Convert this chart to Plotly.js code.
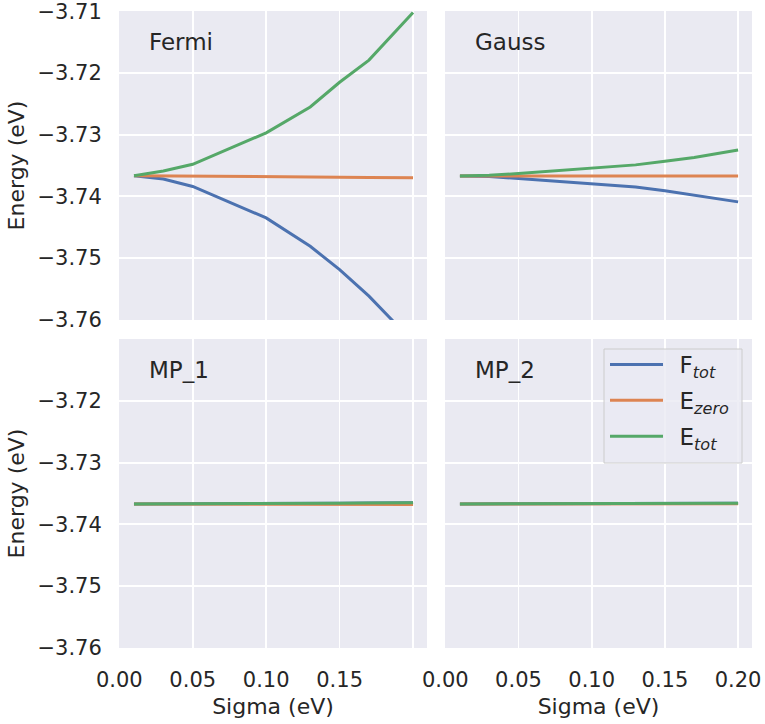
<!DOCTYPE html>
<html>
<head>
<meta charset="utf-8">
<script src="https://cdn.plot.ly/plotly-3.0.1.min.js"></script>
<style>
  html, body { margin: 0; padding: 0; background: #fff; }
  #chart { width: 765px; height: 724px; }
</style>
</head>
<body>
<div id="chart"></div>
<script>
// smearing width (eV)
const sigma = [0.01, 0.03, 0.05, 0.10, 0.13, 0.15, 0.17, 0.20];

// Fermi
const fermiF     = [-3.73665, -3.7372, -3.7384, -3.7435, -3.7481, -3.7519, -3.7562, -3.7636];
const fermiEzero = [-3.73665, -3.73667, -3.7367, -3.7368, -3.73685, -3.7369, -3.73695, -3.7370];
const fermiEtot  = [-3.73665, -3.7359, -3.7348, -3.7297, -3.7255, -3.7215, -3.7179, -3.7102];

// Gauss
const gaussF     = [-3.7367, -3.7368, -3.7371, -3.7379, -3.7385, -3.7391, -3.7398, -3.7409];
const gaussEzero = [-3.7367, -3.7367, -3.7367, -3.7367, -3.7367, -3.7367, -3.7367, -3.7367];
const gaussEtot  = [-3.7367, -3.7366, -3.7363, -3.7355, -3.7349, -3.7343, -3.7337, -3.7325];

// MP_1
const mp1F     = [-3.7367, -3.7367, -3.7367, -3.73665, -3.7366, -3.7366, -3.73655, -3.7365];
const mp1Ezero = [-3.7367, -3.7367, -3.7367, -3.7367, -3.73672, -3.73675, -3.73677, -3.7368];
const mp1Etot  = [-3.7367, -3.7367, -3.7367, -3.73665, -3.7366, -3.7366, -3.73655, -3.7365];

// MP_2
const mp2F     = [-3.7367, -3.7367, -3.7367, -3.73665, -3.73665, -3.7366, -3.7366, -3.7366];
const mp2Ezero = [-3.7367, -3.7367, -3.7367, -3.73667, -3.73667, -3.73665, -3.73665, -3.73665];
const mp2Etot  = [-3.7367, -3.7367, -3.7367, -3.73665, -3.73665, -3.7366, -3.7366, -3.7366];

const panels = [
  {name: 'Fermi', F: fermiF, Ez: fermiEzero, Et: fermiEtot, xa: 'x',  ya: 'y'},
  {name: 'Gauss', F: gaussF, Ez: gaussEzero, Et: gaussEtot, xa: 'x2', ya: 'y2'},
  {name: 'MP_1',  F: mp1F,   Ez: mp1Ezero,   Et: mp1Etot,   xa: 'x3', ya: 'y3'},
  {name: 'MP_2',  F: mp2F,   Ez: mp2Ezero,   Et: mp2Etot,   xa: 'x4', ya: 'y4'}
];

const yTicks = [-3.76, -3.75, -3.74, -3.73, -3.72, -3.71];
const yTextTop = ['\u22123.76', '\u22123.75', '\u22123.74', '\u22123.73', '\u22123.72', '\u22123.71'];
const yTextBottom = ['\u22123.76', '\u22123.75', '\u22123.74', '\u22123.73', '\u22123.72', ''];
const xTicks = [0, 0.05, 0.10, 0.15, 0.20];
const xTextLeft = ['0.00', '0.05', '0.10', '0.15', ''];
const xTextRight = ['0.00', '0.05', '0.10', '0.15', '0.20'];

const blue = '#4c72b0', orange = '#dd8452', green = '#55a868';
const ink = '#262626';
const fnt = 'DejaVu Sans, sans-serif';

const traces = [];
panels.forEach((p, i) => {
  const show = i === 0;
  traces.push({x: sigma, y: p.F, xaxis: p.xa, yaxis: p.ya, mode: 'lines', name: '\u2002F<sub><i>tot</i></sub>\u00a0',
    line: {color: blue, width: 3}, showlegend: show, legendgroup: 'f'});
  traces.push({x: sigma, y: p.Ez, xaxis: p.xa, yaxis: p.ya, mode: 'lines', name: '\u2002E<sub><i>zero</i></sub>\u00a0',
    line: {color: orange, width: 3}, showlegend: show, legendgroup: 'ez'});
  traces.push({x: sigma, y: p.Et, xaxis: p.xa, yaxis: p.ya, mode: 'lines', name: '\u2002E<sub><i>tot</i></sub>\u00a0',
    line: {color: green, width: 3}, showlegend: show, legendgroup: 'et'});
});

function xAxis(dom, anchor, text, showLabels) {
  return {
    domain: dom, anchor: anchor, range: [-0.0002, 0.2095],
    tickvals: xTicks, ticktext: text, showticklabels: showLabels,
    showgrid: true, gridcolor: '#ffffff', gridwidth: 1.7, zeroline: false, showline: false,
    ticks: showLabels ? 'outside' : '', ticklen: 13, tickcolor: 'rgba(0,0,0,0)',
    tickfont: {family: fnt, size: 21, color: ink}, ticklabeloverflow: 'allow',
    title: showLabels ? {text: 'Sigma (eV)', font: {family: fnt, size: 22, color: ink}, standoff: 7} : {text: ''}
  };
}
function yAxis(dom, anchor, text, showLabels) {
  return {
    domain: dom, anchor: anchor, range: [-3.76006, -3.70994],
    tickvals: yTicks, ticktext: text, showticklabels: showLabels,
    showgrid: true, gridcolor: '#ffffff', gridwidth: 1.7, zeroline: false, showline: false,
    ticks: showLabels ? 'outside' : '', ticklen: 12, tickcolor: 'rgba(0,0,0,0)',
    tickfont: {family: fnt, size: 21, color: ink}, ticklabeloverflow: 'allow',
    title: showLabels ? {text: 'Energy (eV)', font: {family: fnt, size: 22, color: ink}, standoff: 6} : {text: ''}
  };
}

const colL = [119 / 765, 427 / 765];
const colR = [445 / 765, 752 / 765];
const rowT = [1 - 320 / 724, 1 - 11 / 724];
const rowB = [1 - 648 / 724, 1 - 339 / 724];

const annotations = panels.map(p => ({
  text: p.name, xref: p.xa + ' domain', yref: p.ya + ' domain',
  x: 0.09, y: 0.9, xanchor: 'left', yanchor: 'middle', showarrow: false,
  font: {family: fnt, size: 23, color: ink}
}));

// legend frame drawn as a shape so the entries can sit a little higher inside it
const legendBox = {
  type: 'rect', xref: 'paper', yref: 'paper',
  x0: 604 / 765, x1: 742 / 765, y0: 1 - 463 / 724, y1: 1 - 349 / 724,
  fillcolor: 'rgba(234,234,242,0.8)', line: {color: '#cccccc', width: 1}, layer: 'above'
};

const layout = {
  width: 765, height: 724,
  margin: {l: 0, r: 0, t: 0, b: 0},
  paper_bgcolor: '#ffffff', plot_bgcolor: '#eaeaf2',
  font: {family: fnt, color: ink},
  showlegend: true,
  legend: {
    x: 742 / 765, y: 1 - 343 / 724, xanchor: 'right', yanchor: 'top',
    bgcolor: 'rgba(0,0,0,0)', borderwidth: 0,
    font: {family: fnt, size: 23, color: ink}, itemwidth: 53, tracegroupgap: 3
  },
  xaxis:  xAxis(colL, 'y',  xTextLeft,  false),
  yaxis:  yAxis(rowT, 'x',  yTextTop,   true),
  xaxis2: xAxis(colR, 'y2', xTextRight, false),
  yaxis2: yAxis(rowT, 'x2', yTextTop,   false),
  xaxis3: xAxis(colL, 'y3', xTextLeft,  true),
  yaxis3: yAxis(rowB, 'x3', yTextBottom, true),
  xaxis4: xAxis(colR, 'y4', xTextRight, true),
  yaxis4: yAxis(rowB, 'x4', yTextBottom, false),
  shapes: [legendBox],
  annotations: annotations
};

Plotly.newPlot('chart', traces, layout, {displayModeBar: false, staticPlot: true});
</script>
</body>
</html>
